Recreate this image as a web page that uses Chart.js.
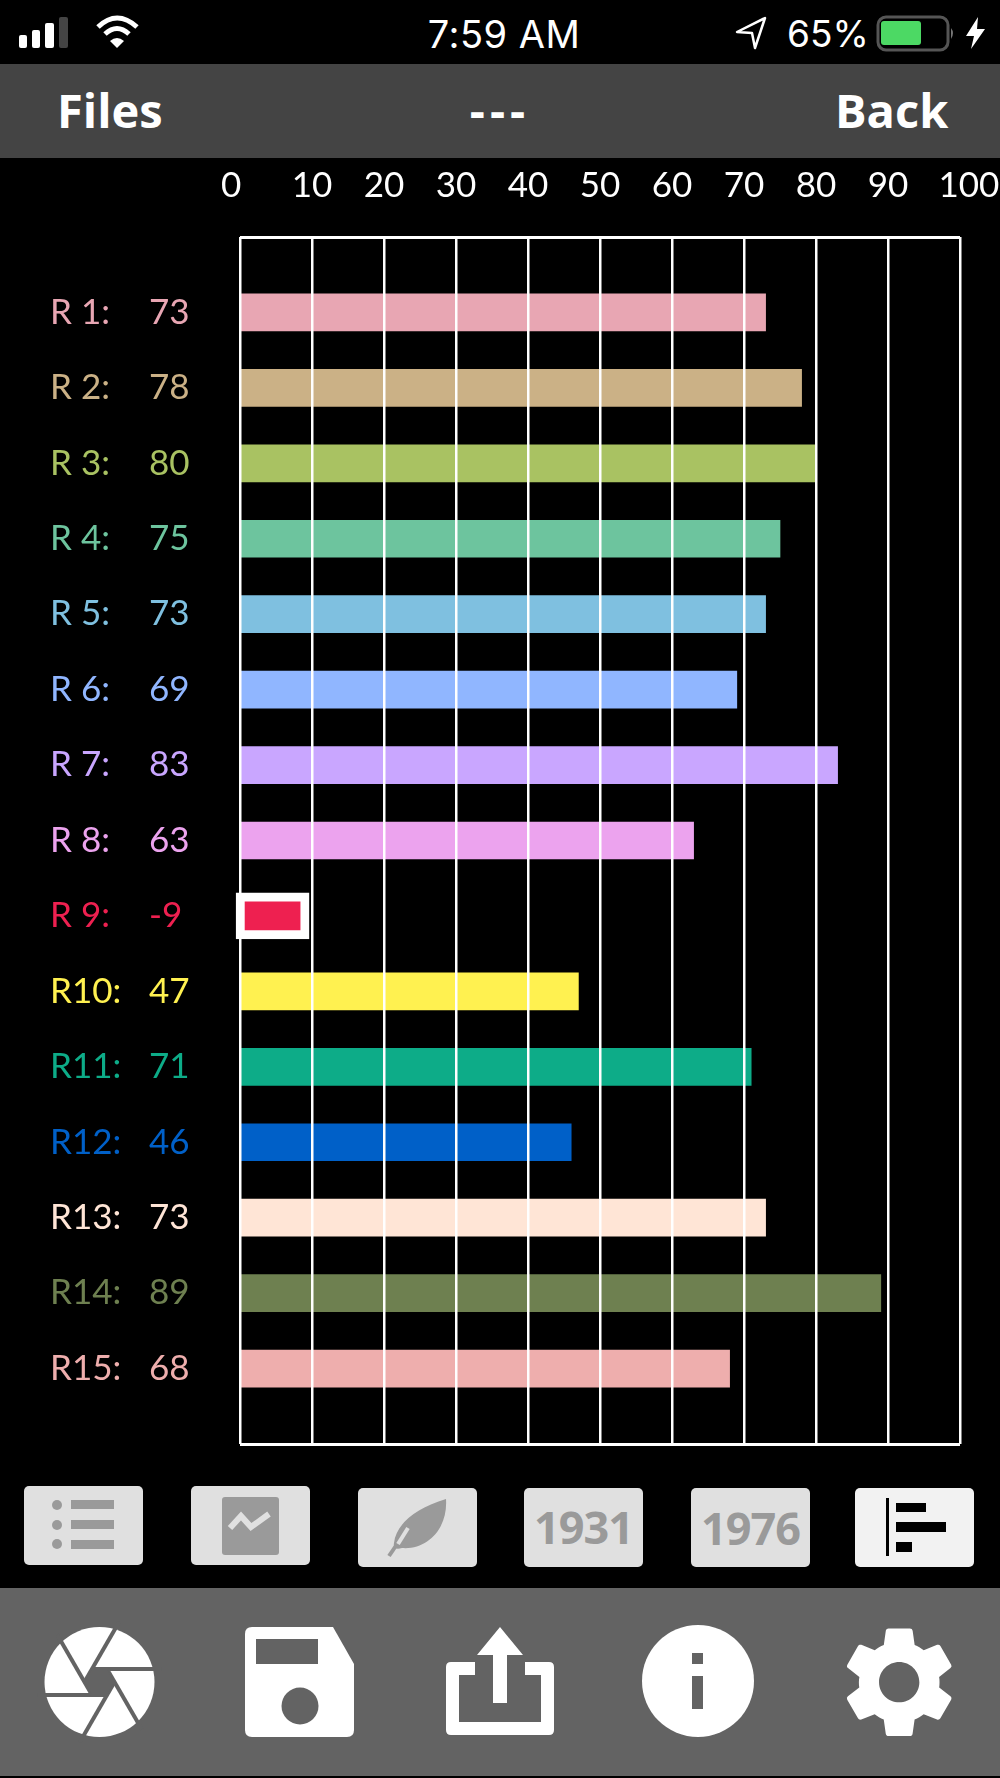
<!DOCTYPE html>
<html>
<head>
<meta charset="utf-8">
<title>Bars</title>
<script src="https://cdn.jsdelivr.net/npm/chart.js@4"></script>
<style>
  html, body { margin: 0; padding: 0; background: #000; }
  #page { position: relative; width: 1000px; height: 1778px; overflow: hidden; background: #000; font-family: Inter, Roboto, sans-serif; color: #fff; }
  .abs { position: absolute; white-space: nowrap; }
  #nav { position: absolute; left: 0; top: 64px; width: 1000px; height: 94px; background: #444; }
  #bottom { position: absolute; left: 0; top: 1588px; width: 1000px; height: 188px; background: #636363; }
  #chartBox { position: absolute; left: 0; top: 158px; width: 1000px; height: 1320px; }
  .btn { position: absolute; width: 119px; height: 79px; background: #e0e0e0; border-radius: 5px; }
  .btn svg { display: block; }
  .year { position: absolute; left: 0; right: 0; top: 8px; text-align: center; font: bold 45px "Open Sans", sans-serif; color: #9a9a9a; letter-spacing: -1px; }
</style>
</head>
<body>
<div id="page">
  <!-- status bar -->
  <svg class="abs" style="left:0;top:0" width="1000" height="64">
    <g fill="#fff">
      <rect x="19" y="35" width="8" height="13" rx="2"/>
      <rect x="32" y="30" width="8" height="18" rx="2"/>
      <rect x="45" y="23" width="9" height="25" rx="2"/>
    </g>
    <rect x="59" y="17" width="9" height="31" rx="2" fill="#444"/>
    <g fill="none" stroke="#fff" stroke-width="5">
      <path d="M98 27 Q117 9 137 27"/>
      <path d="M105 34 Q117 23 129 34"/>
    </g>
    <path d="M110 41 Q117 35 124 41 L117 48 Z" fill="#fff"/>
    <path d="M737 32 L765 18 L755 48 L752 33 Z" fill="none" stroke="#fff" stroke-width="2.5" stroke-linejoin="round"/>
    <rect x="878" y="17" width="70" height="33" rx="8" fill="none" stroke="#555" stroke-width="3"/>
    <rect x="881" y="21" width="40" height="24" rx="3" fill="#4cd964"/>
    <path d="M951 28 q4 5 0 11 z" fill="#777"/>
    <path d="M978 17 L966 36 L974 36 L971 49 L985 29 L977 29 Z" fill="#fff"/>
  </svg>
  <div class="abs" style="left:400px;width:208px;top:11px;text-align:center;font-size:38px;line-height:46px;letter-spacing:.5px">7:59 AM</div>
  <div class="abs" style="left:787px;top:11px;font-size:37px;line-height:46px">65%</div>

  <!-- nav bar -->
  <div id="nav"></div>
  <div class="abs" style="left:57px;top:81px;font:bold 47px/58px 'Open Sans',sans-serif;">Files</div>
  <div class="abs" style="left:400px;width:200px;top:81px;text-align:center;font:bold 47px/58px 'Open Sans',sans-serif;letter-spacing:5px">---</div>
  <div class="abs" style="left:835px;top:81px;font:bold 47px/58px 'Open Sans',sans-serif;">Back</div>

  <!-- chart -->
  <div id="chartBox"><canvas id="barChart" width="1000" height="1320"></canvas></div>

  <!-- view buttons -->
  <div class="btn" style="left:24px;top:1486px">
    <svg width="119" height="79" fill="#9a9a9a">
      <circle cx="33" cy="19" r="5"/><rect x="47" y="14" width="43" height="9"/>
      <circle cx="33" cy="39" r="5"/><rect x="47" y="34" width="43" height="9"/>
      <circle cx="33" cy="58" r="5"/><rect x="47" y="54" width="43" height="9"/>
    </svg>
  </div>
  <div class="btn" style="left:191px;top:1486px">
    <svg width="119" height="79">
      <rect x="31" y="11" width="57" height="58" rx="3" fill="#9a9a9a"/>
      <path d="M39 44 L50 32 L60 43 L78 30" transform="translate(0,-2)" fill="none" stroke="#e0e0e0" stroke-width="6"/>
    </svg>
  </div>
  <div class="btn" style="left:358px;top:1488px">
    <svg width="119" height="78">
      <path d="M88 11 C58 20 38 36 36 55 C35 60 38 62 44 60 C70 62 90 40 88 11 Z" fill="#9a9a9a"/>
      <path d="M31 68 L50 40" stroke="#9a9a9a" stroke-width="4" fill="none"/>
      <path d="M40 56 L50 40" stroke="#e0e0e0" stroke-width="4" fill="none"/>
    </svg>
  </div>
  <div class="btn" style="left:524px;top:1488px"><div class="year">1931</div></div>
  <div class="btn" style="left:691px;top:1488px"><div class="year" style="top:9px">1976</div></div>
  <div class="btn" style="left:855px;top:1488px;background:#f2f2f2">
    <svg width="119" height="79" fill="#000">
      <rect x="31" y="10" width="3" height="58"/>
      <rect x="41" y="15" width="30" height="9"/>
      <rect x="41" y="34" width="50" height="10"/>
      <rect x="41" y="54" width="16" height="10"/>
    </svg>
  </div>

  <!-- bottom bar -->
  <div id="bottom"></div>
  <svg class="abs" style="left:0;top:1588px" width="1000" height="188">
    <!-- shutter -->
    <g transform="translate(99.5,94)">
      <circle r="55" fill="#fff"/>
      <g stroke="#636363" stroke-width="4">
        <line x1="-7.5" y1="-13" x2="62" y2="-13"/>
        <line x1="-7.5" y1="-13" x2="62" y2="-13" transform="rotate(60)"/>
        <line x1="-7.5" y1="-13" x2="62" y2="-13" transform="rotate(120)"/>
        <line x1="-7.5" y1="-13" x2="62" y2="-13" transform="rotate(180)"/>
        <line x1="-7.5" y1="-13" x2="62" y2="-13" transform="rotate(240)"/>
        <line x1="-7.5" y1="-13" x2="62" y2="-13" transform="rotate(300)"/>
      </g>
      <polygon points="-7.5,-13 7.5,-13 15,0 7.5,13 -7.5,13 -15,0" fill="#636363"/>
    </g>
    <!-- save -->
    <path d="M252 39 H333 L354 76 V142 Q354 149 347 149 H252 Q245 149 245 142 V46 Q245 39 252 39 Z" fill="#fff"/>
    <rect x="256" y="51" width="62" height="25" fill="#636363"/>
    <circle cx="300" cy="118" r="18.5" fill="#636363"/>
    <!-- share -->
    <path d="M500 39 L523 67 H507 V115 H493 V67 H477 Z" fill="#fff"/>
    <path d="M475 74 H451 Q446 74 446 79 V142 Q446 147 451 147 H549 Q554 147 554 142 V79 Q554 74 549 74 H525 V87 H541 V134 H459 V87 H475 Z" fill="#fff"/>
    <!-- info -->
    <circle cx="698" cy="93" r="56" fill="#fff"/>
    <rect x="692" y="65" width="11" height="11" fill="#636363"/>
    <rect x="692" y="88" width="11" height="33" fill="#636363"/>
    <!-- settings -->
    <path transform="translate(832,27) scale(5.6)" fill="#fff" d="M19.14 12.94c.04-.3.06-.61.06-.94 0-.32-.02-.64-.07-.94l2.03-1.58a.49.49 0 0 0 .12-.61l-1.92-3.32a.488.488 0 0 0-.59-.22l-2.39.96c-.5-.38-1.03-.7-1.62-.94l-.36-2.54a.484.484 0 0 0-.48-.41h-3.84c-.24 0-.43.17-.47.41l-.36 2.54c-.59.24-1.13.57-1.62.94l-2.39-.96c-.22-.08-.47 0-.59.22L2.74 8.87c-.12.21-.08.47.12.61l2.03 1.58c-.05.3-.09.63-.09.94s.02.64.07.94l-2.03 1.58a.49.49 0 0 0-.12.61l1.92 3.32c.12.22.37.29.59.22l2.39-.96c.5.38 1.03.7 1.62.94l.36 2.54c.05.24.24.41.48.41h3.84c.24 0 .44-.17.47-.41l.36-2.54c.59-.24 1.13-.56 1.62-.94l2.39.96c.22.08.47 0 .59-.22l1.92-3.32c.12-.22.07-.47-.12-.61l-2.01-1.58zM12 15.6c-1.98 0-3.6-1.62-3.6-3.6s1.62-3.6 3.6-3.6 3.6 1.62 3.6 3.6-1.62 3.6-3.6 3.6z"/>
  </svg>
</div>

<script>
// Werte
const categories = ['R 1:', 'R 2:', 'R 3:', 'R 4:', 'R 5:', 'R 6:', 'R 7:', 'R 8:', 'R 9:', 'R10:', 'R11:', 'R12:', 'R13:', 'R14:', 'R15:'];
const values = [73, 78, 80, 75, 73, 69, 83, 63, -9, 47, 71, 46, 73, 89, 68];
const colors = ['#e8a6b3', '#cbb186', '#a9c262', '#6dc49e', '#7fc0e0', '#90b6ff', '#c9a6ff', '#eca3ee',
                '#ee2050', '#fff150', '#0dac88', '#0060c8', '#ffe5d6', '#6e8050', '#eeaead'];
const xTicks = [0, 10, 20, 30, 40, 50, 60, 70, 80, 90, 100];
// R9 is negative, the app draws it as a framed box from about 0 to 10
const negativeBox = [-0.55, 9.6];

// empty slot on both ends so the bars sit half a row away from the frame
const rowLabels = ['', ...categories, ''];
const rowColors = ['#fff', ...colors, '#fff'];
const plainBars = [null, ...values.map(v => v < 0 ? null : v), null];
const boxBars = [null, ...values.map(v => v < 0 ? negativeBox : null), null];

const font = { family: 'Lato, sans-serif', size: 35 };

// second label column with the numbers
const valueColumn = {
    id: 'valueColumn',
    afterDraw(chart) {
        const ctx = chart.ctx;
        const y = chart.scales.y;
        ctx.save();
        ctx.font = '35px Lato, sans-serif';
        ctx.textAlign = 'left';
        ctx.textBaseline = 'middle';
        values.forEach((v, i) => {
            ctx.fillStyle = colors[i];
            ctx.fillText(String(v), 149, y.getPixelForTick(i + 1));
        });
        ctx.restore();
    }
};

new Chart(document.getElementById('barChart'), {
    type: 'bar',
    data: {
        labels: rowLabels,
        datasets: [{
            data: plainBars,
            backgroundColor: rowColors,
            borderWidth: 0,
            barThickness: 37,
            grouped: false
        }, {
            data: boxBars,
            backgroundColor: rowColors,
            borderColor: '#fff',
            borderWidth: 9,
            borderSkipped: false,
            barThickness: 46,
            grouped: false,
            clip: false
        }]
    },
    options: {
        indexAxis: 'y',
        responsive: false,
        animation: false,
        layout: { padding: { left: 50, right: 40, top: 0, bottom: 34 } },
        plugins: { legend: { display: false }, tooltip: { enabled: false } },
        scales: {
            x: {
                position: 'top',
                min: 0,
                max: 100,
                afterBuildTicks(scale) {
                    scale.ticks = xTicks.map(value => ({ value }));
                },
                afterFit(scale) {
                    scale.height = 79;
                    scale.paddingLeft = 0;
                    scale.paddingRight = 0;
                },
                grid: { color: '#fff', lineWidth: 2.5, z: 1, drawTicks: false },
                border: { display: false },
                ticks: {
                    color: '#fff',
                    font,
                    padding: 30,
                    maxRotation: 0,
                    autoSkip: false,
                    // the outer two labels sit a bit away from their lines
                    callback(value) {
                        if (value === 0) return '0\u00a0\u00a0';
                        if (value === 100) return '\u00a0\u00a0100';
                        return String(value);
                    }
                }
            },
            y: {
                afterFit(scale) {
                    scale.width = 190;
                },
                offset: false,
                grid: {
                    z: 1,
                    offset: false,
                    drawTicks: false,
                    lineWidth: 3,
                    color: ctx => (ctx.index === 0 || ctx.index === rowLabels.length - 1) ? '#fff' : 'transparent'
                },
                border: { display: false },
                ticks: {
                    font,
                    padding: 0,
                    crossAlign: 'far',
                    autoSkip: false,
                    color: ctx => rowColors[ctx.index]
                }
            }
        }
    },
    plugins: [valueColumn]
});
</script>
</body>
</html>
